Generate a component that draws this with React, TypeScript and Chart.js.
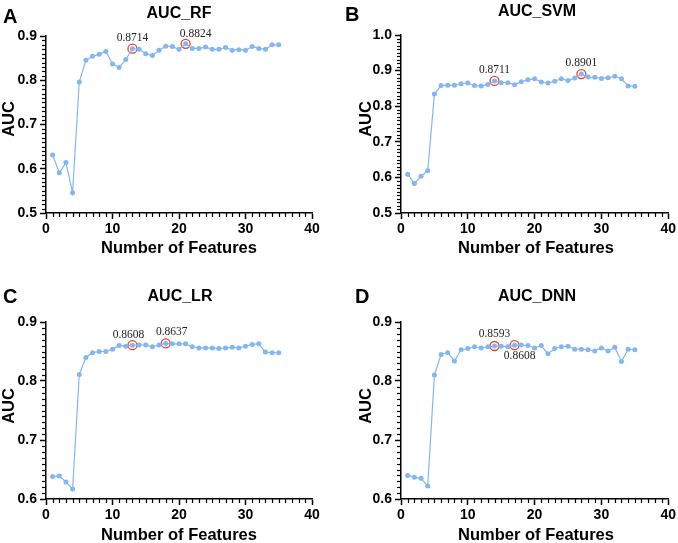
import { useEffect, useRef } from 'react';
import { Chart, registerables } from 'chart.js';

Chart.register(...registerables);

// number of features (x)
const features = [1, 2, 3, 4, 5, 6, 7, 8, 9, 10, 11, 12, 13, 14, 15, 16, 17, 18, 19, 20, 21, 22, 23, 24, 25, 26, 27, 28, 29, 30, 31, 32, 33, 34, 35];
const xTicks = [0, 10, 20, 30, 40];

// AUC per model
const rfAuc = [0.631, 0.591, 0.614, 0.546, 0.796, 0.845, 0.854, 0.859, 0.865, 0.837, 0.829, 0.847, 0.8714, 0.870, 0.860, 0.856, 0.868, 0.877, 0.876, 0.870, 0.8824, 0.872, 0.872, 0.875, 0.870, 0.870, 0.874, 0.868, 0.869, 0.868, 0.876, 0.872, 0.870, 0.880, 0.880];
const svmAuc = [0.609, 0.583, 0.603, 0.619, 0.834, 0.858, 0.859, 0.859, 0.863, 0.865, 0.858, 0.857, 0.861, 0.8711, 0.866, 0.866, 0.860, 0.869, 0.874, 0.877, 0.868, 0.865, 0.870, 0.877, 0.872, 0.879, 0.8901, 0.882, 0.881, 0.878, 0.880, 0.884, 0.877, 0.857, 0.856];
const lrAuc = [0.638, 0.639, 0.629, 0.617, 0.811, 0.840, 0.848, 0.850, 0.850, 0.854, 0.860, 0.859, 0.8608, 0.861, 0.861, 0.858, 0.861, 0.8637, 0.863, 0.863, 0.863, 0.858, 0.856, 0.856, 0.856, 0.855, 0.856, 0.857, 0.856, 0.859, 0.862, 0.863, 0.849, 0.848, 0.848];
const dnnAuc = [0.640, 0.637, 0.635, 0.622, 0.810, 0.845, 0.848, 0.834, 0.853, 0.855, 0.858, 0.856, 0.858, 0.8593, 0.859, 0.858, 0.8608, 0.861, 0.860, 0.856, 0.860, 0.846, 0.855, 0.858, 0.859, 0.854, 0.854, 0.853, 0.851, 0.856, 0.851, 0.857, 0.833, 0.854, 0.853];

// highlighted feature counts + their labels
const rfMarks = [13, 21];
const rfMarkLabels = ['0.8714', '0.8824'];
const svmMarks = [14, 27];
const svmMarkLabels = ['0.8711', '0.8901'];
const lrMarks = [13, 18];
const lrMarkLabels = ['0.8608', '0.8637'];
const dnnMarks = [14, 17];
const dnnMarkLabels = ['0.8593', '0.8608'];

// y tick labels
const rfYTicks = [0.5, 0.6, 0.7, 0.8, 0.9];
const svmYTicks = [0.5, 0.6, 0.7, 0.8, 0.9, 1.0];
const lrYTicks = [0.6, 0.7, 0.8, 0.9];
const dnnYTicks = [0.6, 0.7, 0.8, 0.9];

const BLUE = '#86b6ef';
const RED = '#e8412c';
const SANS = '"Liberation Sans", Arial, sans-serif';

type Layout = {
    w: number;
    h: number;
    left: number;
    right: number;
    top: number;
    bottom: number;
    letterPos: [number, number];
    titlePos: [number, number];
    yTitlePos: [number, number];
    xTitlePos: [number, number];
    labelOffsets: [number, number][];
};

type PanelProps = {
    letter: string;
    title: string;
    values: number[];
    marks: number[];
    markLabels: string[];
    yTicks: number[];
    layout: Layout;
};

const Panel = ({ letter, title, values, marks, markLabels, yTicks, layout }: PanelProps) => {
    const chartRef = useRef<HTMLCanvasElement | null>(null);

    useEffect(() => {
        const ctx = chartRef.current?.getContext('2d');
        if (!ctx) return;

        const points = features.map((f, i) => ({ x: f, y: values[i] }));
        const marked = marks.map((m) => ({ x: m, y: values[features.indexOf(m)] }));
        const yMin = yTicks[0];
        const yMax = yTicks[yTicks.length - 1];

        const decor = {
            id: 'decor',
            afterDraw(chart: any) {
                const c = chart.ctx;
                const area = chart.chartArea;
                const xs = chart.scales.x;
                const ys = chart.scales.y;
                c.save();
                // minor ticks (every 0.01 on y, every 1 on x)
                c.strokeStyle = '#000';
                c.lineWidth = 1.2;
                for (let k = Math.round(yMin * 100) + 1; k < Math.round(yMax * 100); k++) {
                    if (k % 10 === 0) continue;
                    const py = Math.round(ys.getPixelForValue(k / 100)) + 0.5;
                    c.beginPath();
                    c.moveTo(area.left - 4, py);
                    c.lineTo(area.left, py);
                    c.stroke();
                }
                for (let k = 1; k < 40; k++) {
                    if (k % 10 === 0) continue;
                    const px = Math.round(xs.getPixelForValue(k)) + 0.5;
                    c.beginPath();
                    c.moveTo(px, area.bottom);
                    c.lineTo(px, area.bottom + 4);
                    c.stroke();
                }

                // value labels next to the marked points
                const meta = chart.getDatasetMeta(1);
                c.fillStyle = '#222';
                c.font = '11.5px "Liberation Serif", "Times New Roman", serif';
                c.textAlign = 'center';
                c.textBaseline = 'alphabetic';
                meta.data.forEach((el: any, j: number) => {
                    const [dx, dy] = layout.labelOffsets[j];
                    c.fillText(markLabels[j], el.x + dx, el.y + dy);
                });

                // panel letter, title, axis titles
                c.fillStyle = '#000';
                c.textBaseline = 'middle';
                c.textAlign = 'left';
                c.font = `bold 20px ${SANS}`;
                c.fillText(letter, layout.letterPos[0], layout.letterPos[1]);
                c.textAlign = 'center';
                c.font = `bold 16px ${SANS}`;
                c.fillText(title, layout.titlePos[0], layout.titlePos[1]);
                c.font = `bold 16.5px ${SANS}`;
                c.fillText('Number of Features', layout.xTitlePos[0], layout.xTitlePos[1]);
                c.save();
                c.translate(layout.yTitlePos[0], layout.yTitlePos[1]);
                c.rotate(-Math.PI / 2);
                c.font = `bold 16.5px ${SANS}`;
                c.fillText('AUC', 0, 0);
                c.restore();
                c.restore();
            },
        };

        const axisCommon = {
            type: 'linear' as const,
            grid: {
                drawOnChartArea: false,
                drawTicks: true,
                tickLength: 6,
                tickColor: '#000',
                tickWidth: 1.5,
            },
            border: { display: true, color: '#000', width: 1.5 },
        };

        const myChart = new Chart(ctx, {
            type: 'line',
            data: {
                datasets: [
                    {
                        data: points,
                        borderColor: BLUE,
                        backgroundColor: BLUE,
                        borderWidth: 1.2,
                        pointRadius: 2.5,
                        pointBorderWidth: 0,
                        pointBackgroundColor: BLUE,
                        tension: 0,
                    },
                    {
                        data: marked,
                        showLine: false,
                        pointRadius: 4.5,
                        pointBorderWidth: 1.3,
                        pointBorderColor: RED,
                        pointBackgroundColor: 'rgba(0,0,0,0)',
                    },
                ],
            },
            options: {
                animation: false,
                responsive: false,
                devicePixelRatio: 1,
                layout: {
                    padding: { left: 0, top: layout.top, right: layout.w - layout.right, bottom: 0 },
                },
                plugins: {
                    legend: { display: false },
                    title: { display: false },
                    tooltip: { enabled: false },
                },
                scales: {
                    x: {
                        ...axisCommon,
                        min: 0,
                        max: 40,
                        afterBuildTicks: (s: any) => {
                            s.ticks = xTicks.map((v) => ({ value: v }));
                        },
                        afterFit: (s: any) => {
                            s.height = layout.h - layout.bottom;
                        },
                        ticks: {
                            color: '#000',
                            padding: 2,
                            maxRotation: 0,
                            font: { family: SANS, size: 14, weight: 'bold' },
                        },
                    },
                    y: {
                        ...axisCommon,
                        min: yMin,
                        max: yMax,
                        afterBuildTicks: (s: any) => {
                            s.ticks = yTicks.map((v) => ({ value: v }));
                        },
                        afterFit: (s: any) => {
                            s.width = layout.left;
                        },
                        ticks: {
                            color: '#000',
                            padding: 3,
                            font: { family: SANS, size: 14, weight: 'bold' },
                            callback: (v: any) => Number(v).toFixed(1),
                        },
                    },
                },
            },
            plugins: [decor],
        } as any);

        return () => {
            myChart.destroy();
        };
    }, [letter, title, values, marks, markLabels, yTicks, layout]);

    return (
        <canvas
            ref={chartRef}
            width={layout.w}
            height={layout.h}
            style={{ display: 'block', width: layout.w, height: layout.h }}
        />
    );
};

const layoutA: Layout = {
    w: 339, h: 271, left: 46, right: 312, top: 36, bottom: 213,
    letterPos: [3, 17], titlePos: [179, 14], yTitlePos: [9, 119], xTitlePos: [179, 248],
    labelOffsets: [[0, -8], [10, -7]],
};
const layoutB: Layout = {
    w: 339, h: 271, left: 62, right: 330, top: 35, bottom: 213,
    letterPos: [6, 15], titlePos: [198, 12], yTitlePos: [27, 119], xTitlePos: [197, 248],
    labelOffsets: [[0, -8], [0, -8]],
};
const layoutC: Layout = {
    w: 339, h: 272, left: 46, right: 312, top: 51, bottom: 228,
    letterPos: [3, 26], titlePos: [180, 26], yTitlePos: [9, 135], xTitlePos: [179, 264],
    labelOffsets: [[-4, -7], [6, -8]],
};
const layoutD: Layout = {
    w: 339, h: 272, left: 62, right: 330, top: 51, bottom: 228,
    letterPos: [16, 26], titlePos: [198, 26], yTitlePos: [27, 135], xTitlePos: [197, 264],
    labelOffsets: [[0, -9], [5, 14]],
};

const App = () => {
    return (
        <div
            style={{
                position: 'absolute',
                left: 0,
                top: 0,
                width: 678,
                height: 543,
                background: '#fff',
                display: 'grid',
                gridTemplateColumns: '339px 339px',
                gridTemplateRows: '271px 272px',
            }}
        >
            <Panel letter="A" title="AUC_RF" values={rfAuc} marks={rfMarks} markLabels={rfMarkLabels} yTicks={rfYTicks} layout={layoutA} />
            <Panel letter="B" title="AUC_SVM" values={svmAuc} marks={svmMarks} markLabels={svmMarkLabels} yTicks={svmYTicks} layout={layoutB} />
            <Panel letter="C" title="AUC_LR" values={lrAuc} marks={lrMarks} markLabels={lrMarkLabels} yTicks={lrYTicks} layout={layoutC} />
            <Panel letter="D" title="AUC_DNN" values={dnnAuc} marks={dnnMarks} markLabels={dnnMarkLabels} yTicks={dnnYTicks} layout={layoutD} />
        </div>
    );
};

export default App;
